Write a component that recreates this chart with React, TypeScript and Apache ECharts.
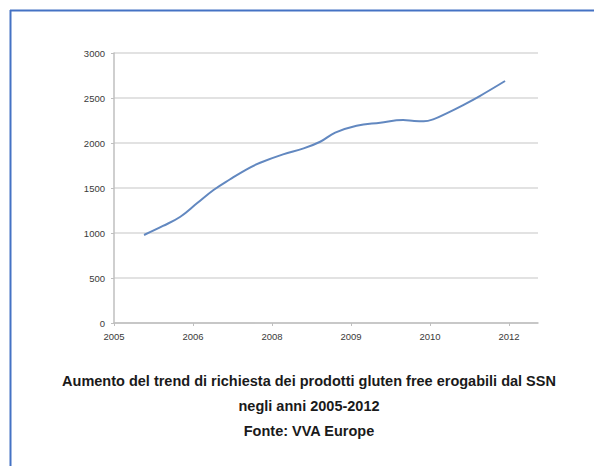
import React, { useEffect, useRef } from "react";
import * as echarts from "echarts";

// x tick labels (category-like positions 0..5 on the axis)
const tickLabels = ["2005", "2006", "2008", "2009", "2010", "2012"];
const tickPositions = [0, 1, 2, 3, 4, 5];
// traced curve: position along x axis (in tick units) and value
const xPositions = [0.38, 0.62, 0.84, 1.05, 1.26, 1.47, 1.68, 1.85, 2.14, 2.4, 2.61, 2.8, 3.07, 3.37, 3.66, 3.8, 3.92, 4.04, 4.21, 4.42, 4.63, 4.95];
const values = [978, 1078, 1181, 1330, 1478, 1597, 1708, 1781, 1874, 1940, 2014, 2115, 2192, 2226, 2256, 2245, 2241, 2263, 2330, 2422, 2522, 2689];
const captionLines = [
  "Aumento del trend di richiesta dei prodotti gluten free erogabili dal SSN",
  "negli anni 2005-2012",
  "Fonte: VVA Europe",
];

export default function App() {
  const ref = useRef<HTMLDivElement>(null);
  useEffect(() => {
    document.body.style.margin = "0";
    if (!ref.current) return;
    const chart = echarts.init(ref.current, null, { renderer: "svg" });
    const data = xPositions.map((x, i) => [x, values[i]]);
    chart.setOption({
      animation: false,
      backgroundColor: "#ffffff",
      grid: { left: 114, top: 53, right: 56, bottom: 143, containLabel: false },
      xAxis: {
        type: "value",
        min: 0,
        max: 424 / 79,
        splitLine: { show: false },
        axisLine: { show: true, lineStyle: { color: "#bfbfbf", width: 1.5 } },
        axisTick: { show: true, length: 3, customValues: tickPositions, lineStyle: { color: "#bfbfbf" } },
        axisLabel: {
          customValues: tickPositions,
          formatter: (v: number) => tickLabels[Math.round(v)] ?? "",
          color: "#3a3a3a",
          fontSize: 9.5,
          fontFamily: "Liberation Sans, Arial, sans-serif",
          margin: 8,
        },
      },
      yAxis: {
        type: "value",
        min: 0,
        max: 3000,
        interval: 500,
        axisLine: { show: true, lineStyle: { color: "#bfbfbf", width: 1.5 } },
        axisTick: { show: true, length: 3, lineStyle: { color: "#bfbfbf" } },
        splitLine: { show: true, lineStyle: { color: "#d9d9d9", width: 1.5 } },
        axisLabel: {
          formatter: (v: number) => String(v),
          color: "#3a3a3a",
          fontSize: 9.5,
          fontFamily: "Liberation Sans, Arial, sans-serif",
          margin: 9,
        },
      },
      series: [
        {
          type: "line",
          data,
          smooth: 0.4,
          showSymbol: false,
          lineStyle: { color: "#6288c0", width: 2 },
        },
      ],
      graphic: [
        { type: "line", shape: { x1: 10, y1: 10.5, x2: 594, y2: 10.5 }, style: { stroke: "#4472c4", lineWidth: 2 } },
        { type: "line", shape: { x1: 10.5, y1: 10, x2: 10.5, y2: 466 }, style: { stroke: "#4472c4", lineWidth: 2 } },
        ...captionLines.map((t, i) => ({
          type: "text",
          x: 309,
          y: 381 + i * 25,
          style: {
            text: t,
            fill: "#1a1a1a",
            font: "bold 14.5px 'Liberation Sans', Arial, sans-serif",
            textAlign: "center",
            textVerticalAlign: "middle",
          },
        })),
      ],
    });
    return () => chart.dispose();
  }, []);
  return (
    <div
      ref={ref}
      style={{ position: "absolute", left: 0, top: 0, width: 594, height: 466 }}
    />
  );
}
